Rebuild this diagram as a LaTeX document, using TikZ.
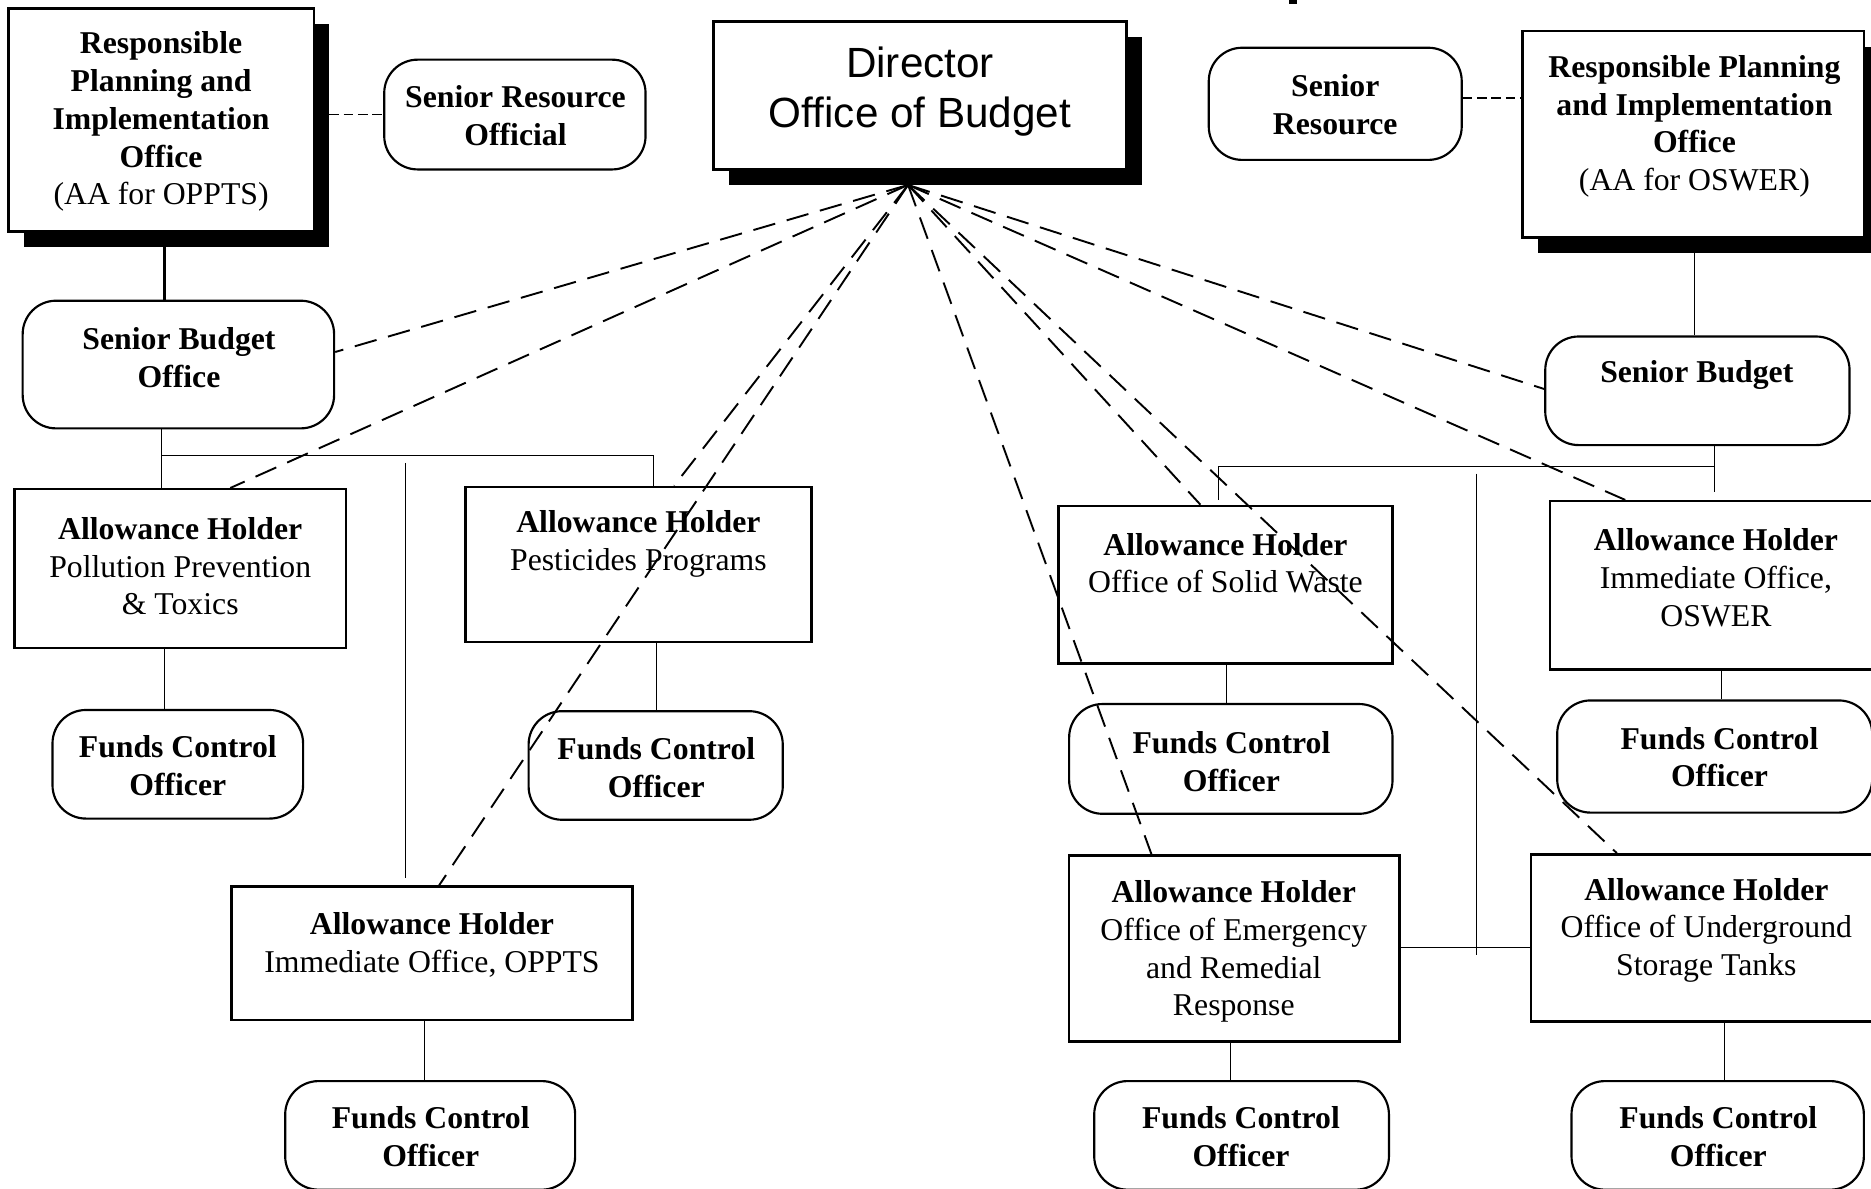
\documentclass[tikz,border=0pt]{standalone}
\usepackage{fontspec}
\setmainfont{Liberation Serif}
\newfontfamily\dirfont{Liberation Sans}
\usetikzlibrary{shadows}

\begin{document}
\begin{tikzpicture}[x=1pt,y=-1pt,
  frame/.style = {draw, line width=2.1pt, fill=white, inner sep=0pt},
  oval/.style = {draw, line width=1.8pt, rounded corners=28pt, fill=white, inner sep=0pt},
  shadowed/.style = {drop shadow={shadow xshift=13pt, shadow yshift=-13pt, fill=black, opacity=1}},
  txt/.style = {align=center, inner sep=0pt, font=\fontsize{26.6}{31.6}\selectfont\bfseries},
  link/.style = {line width=0.85pt},
  dashlink/.style = {line width=1.6pt, dash pattern=on 19pt off 10pt},
  shortdash/.style = {line width=1.2pt, dash pattern=on 8pt off 4pt}]
\clip (0,0) rectangle (1568,996);
\fill (1080,0) rectangle (1087,3);

% top row
\node[frame, shadowed, minimum width=256pt, minimum height=187pt] (rpio1) at (135,100.5) {};
\node[txt] (rpio1t) at (135,102) {Responsible\\Planning and\\Implementation\\Office\\\mdseries (AA for OPPTS)};
\node[oval, minimum width=219pt, minimum height=92pt] (sro1) at (431.5,96) {};
\node[txt] (sro1t) at (432,97) {Senior Resource\\Official};
\node[frame, shadowed, minimum width=346pt, minimum height=124pt] (dir) at (771,80) {};
\node[txt, font=\dirfont\fontsize{35.4}{42}\selectfont] (dirt) at (771,77) {Director\\Office of Budget};
\node[oval, minimum width=212pt, minimum height=94pt] (sro2) at (1119,87) {};
\node[txt] (sro2t) at (1119,88) {Senior\\Resource};
\node[frame, shadowed, minimum width=286pt, minimum height=173pt] (rpio2) at (1419,112.5) {};
\node[txt] (rpio2t) at (1420,106) {Responsible Planning\\and Implementation\\Office\\\mdseries (AA for OSWER)};

% senior budget
\node[oval, minimum width=261pt, minimum height=107pt] (sb1) at (149.5,305.5) {};
\node[txt] (sb1t) at (150,300) {Senior Budget\\Office};
\node[oval, minimum width=255pt, minimum height=91pt] (sb2) at (1422.5,327.5) {};
\node[txt] (sb2t) at (1422,314) {Senior Budget};

% allowance holders, OPPTS
\node[frame, minimum width=278pt, minimum height=133pt] (ah1) at (151,476.5) {};
\node[txt] (ah1t) at (151,474.5) {Allowance Holder\\\mdseries Pollution Prevention\\\mdseries \& Toxics};
\node[frame, minimum width=290pt, minimum height=130pt] (ah2) at (535,473) {};
\node[txt] (ah2t) at (535,456) {Allowance Holder\\\mdseries Pesticides Programs};
\node[frame, minimum width=336pt, minimum height=112pt] (ah3) at (362,799) {};
\node[txt] (ah3t) at (362,792) {Allowance Holder\\\mdseries Immediate Office, OPPTS};

% allowance holders, OSWER
\node[frame, minimum width=280pt, minimum height=132pt] (ah4) at (1027,490) {};
\node[txt] (ah4t) at (1027,472) {Allowance Holder\\\mdseries Office of Solid Waste};
\node[frame, minimum width=279pt, minimum height=141pt] (ah5) at (1438.5,490.5) {};
\node[txt] (ah5t) at (1438,484) {Allowance Holder\\\mdseries Immediate Office,\\\mdseries OSWER};
\node[frame, minimum width=277pt, minimum height=156pt] (ah6) at (1034.5,795) {};
\node[txt] (ah6t) at (1034,797.5) {Allowance Holder\\\mdseries Office of Emergency\\\mdseries and Remedial\\\mdseries Response};
\node[frame, minimum width=295pt, minimum height=140pt] (ah7) at (1430.5,786) {};
\node[txt] (ah7t) at (1430,779.5) {Allowance Holder\\\mdseries Office of Underground\\\mdseries Storage Tanks};

% funds control officers
\node[oval, minimum width=210pt, minimum height=91pt] (f1) at (149,640.5) {};
\node[txt] (f1t) at (149,641.5) {Funds Control\\Officer};
\node[oval, minimum width=213pt, minimum height=91pt] (f2) at (549.5,641.5) {};
\node[txt] (f2t) at (550,643.5) {Funds Control\\Officer};
\node[oval, minimum width=243pt, minimum height=91pt] (f3) at (360.5,951.5) {};
\node[txt] (f3t) at (361,952.5) {Funds Control\\Officer};
\node[oval, minimum width=271pt, minimum height=92pt] (f4) at (1031.5,636) {};
\node[txt] (f4t) at (1032,638) {Funds Control\\Officer};
\node[oval, minimum width=264pt, minimum height=94pt] (f5) at (1437,634) {};
\node[txt] (f5t) at (1441,634.5) {Funds Control\\Officer};
\node[oval, minimum width=247pt, minimum height=91pt] (f6) at (1040.5,951.5) {};
\node[txt] (f6t) at (1040,952.5) {Funds Control\\Officer};
\node[oval, minimum width=245pt, minimum height=91pt] (f7) at (1439.5,951.5) {};
\node[txt] (f7t) at (1440,952.5) {Funds Control\\Officer};

% solid lines
\draw[line width=2pt] (rpio1.south -| 138,0) -- (sb1.north -| 138,0);
\draw[link] (rpio2.south -| 1420,0) -- (sb2.north -| 1420,0);
\coordinate (bus1) at (135,382);
\draw[link] (sb1.south -| bus1) -- (ah1.north -| bus1);
\draw[link] (bus1) -| (ah2.north -| 548,0);
\coordinate (tie1) at (340,388);
\draw[link, shorten >=6pt] (tie1) -- (ah3.north -| tie1);
\coordinate (bus2) at (1437,391);
\draw[link, shorten >=7pt] (sb2.south -| bus2) -- (ah5.north -| bus2);
\draw[link, shorten >=4pt] (bus2) -| (ah4.north -| 1021,0);
\coordinate (tie2) at (1237,397);
\coordinate (tie2b) at (1237,800);
\draw[link] (tie2) -- (tie2b);
\draw[link] (ah6.east |- 0,794) -- (ah7.west |- 0,794);
\draw[link] (ah1.south -| 138,0) -- (f1.north -| 138,0);
\draw[link] (ah2.south -| 550,0) -- (f2.north -| 550,0);
\draw[link] (ah3.south -| 356,0) -- (f3.north -| 356,0);
\draw[link] (ah4.south -| 1028,0) -- (f4.north -| 1028,0);
\draw[link] (ah5.south -| 1443,0) -- (f5.north -| 1443,0);
\draw[link] (ah6.south -| 1031,0) -- (f6.north -| 1031,0);
\draw[link] (ah7.south -| 1445,0) -- (f7.north -| 1445,0);

% dashed lines
\draw[shortdash] (sro1.west -| 276,0) -- (sro1.west);
\draw[shortdash] (sro2.east |- 0,82) -- (rpio2.west |- 0,82);
\coordinate (hub) at (761,155);
\draw[dashlink] (hub) -- (sb1.east |- 0,295);
\draw[dashlink] (hub) -- (ah1.north -| 193,0);
\draw[dashlink] (hub) -- (ah2.north -| 565,0);
\draw[dashlink] (hub) -- (ah3.north -| 368,0);
\draw[dashlink] (hub) -- (ah6.north -| 965,0);
\draw[dashlink] (hub) -- (ah4.north -| 1006,0);
\draw[dashlink] (hub) -- (ah7.north -| 1355,0);
\draw[dashlink] (hub) -- (ah5.north -| 1362,0);
\draw[dashlink] (hub) -- (sb2.west |- 0,326);
\end{tikzpicture}
\end{document}
